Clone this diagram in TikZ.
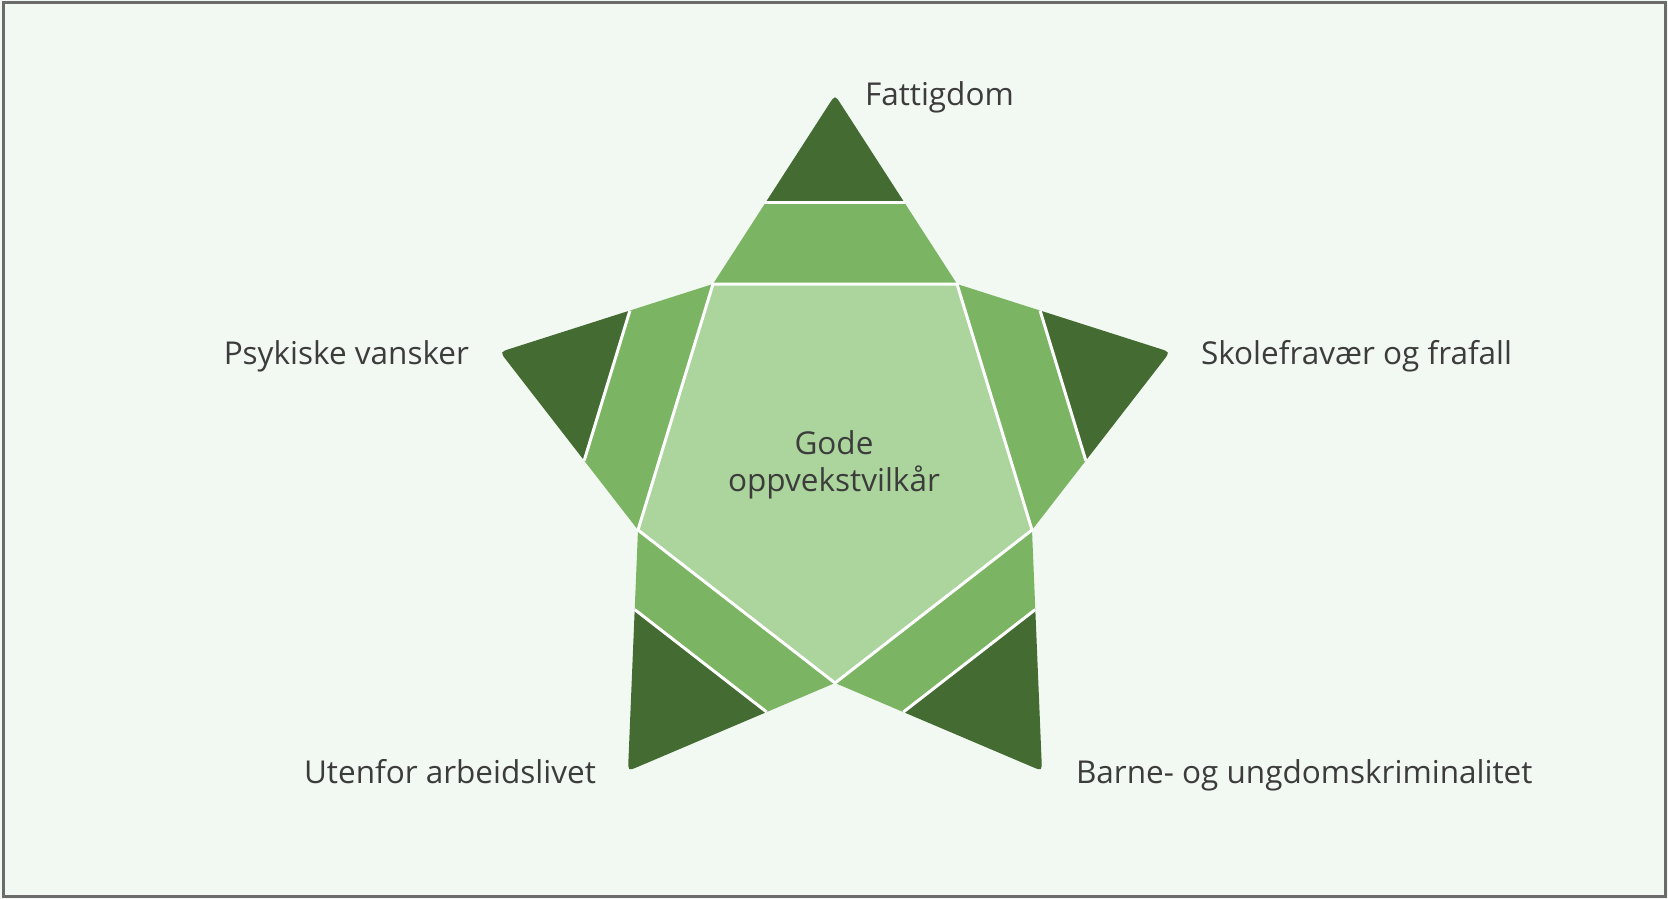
\documentclass[tikz,border=0pt]{standalone}
\usepackage{fontspec}
\setmainfont{Open Sans}
\usetikzlibrary{calc}
\definecolor{bgcol}{HTML}{F2F8F2}
\definecolor{darkgreen}{HTML}{436B32}
\definecolor{midgreen}{HTML}{7BB462}
\definecolor{lightgreen}{HTML}{ABD59D}
\definecolor{txtcol}{HTML}{3C3C3C}
\definecolor{framecol}{HTML}{6B6B6B}

\begin{document}
\begin{tikzpicture}[x=1pt, y=-1pt,
  sep/.style={white, line width=3, line join=round},
  lbl/.style={inner sep=0, outer sep=0, text=txtcol, font=\fontsize{31.5}{37}\selectfont}]
  \useasboundingbox (0,0) rectangle (1668,899);
  \fill [bgcol] (0,0) rectangle (1668,899);
  \draw [framecol, line width=3] (3,3) rectangle (1665,896);

  % pentagon
  \coordinate (A) at (713,284);
  \coordinate (B) at (957,284);
  \coordinate (C) at (1032,530);
  \coordinate (D) at (835,683);
  \coordinate (E) at (638,530);
  % tips
  \coordinate (TA) at (835,95);
  \coordinate (TB) at (1170,352);
  \coordinate (TC) at (1042,771);
  \coordinate (TD) at (628,771);
  \coordinate (TE) at (500,352);

  % splits
  \coordinate (A1) at ($(TA)!0.57!(A)$);
  \coordinate (A2) at ($(TA)!0.57!(B)$);
  \coordinate (B1) at ($(TB)!0.61!(B)$);
  \coordinate (B2) at ($(TB)!0.61!(C)$);
  \coordinate (C1) at ($(TC)!0.67!(C)$);
  \coordinate (C2) at ($(TC)!0.67!(D)$);
  \coordinate (D1) at ($(TD)!0.67!(D)$);
  \coordinate (D2) at ($(TD)!0.67!(E)$);
  \coordinate (E1) at ($(TE)!0.61!(E)$);
  \coordinate (E2) at ($(TE)!0.61!(A)$);

  \fill [lightgreen] (A)--(B)--(C)--(D)--(E)--cycle;

  \fill [midgreen] (A)--(B)--(A2)--(A1)--cycle;
  \fill [midgreen] (B)--(C)--(B2)--(B1)--cycle;
  \fill [midgreen] (C)--(D)--(C2)--(C1)--cycle;
  \fill [midgreen] (D)--(E)--(D2)--(D1)--cycle;
  \fill [midgreen] (E)--(A)--(E2)--(E1)--cycle;

  \fill [darkgreen] (A1)--($(TA)!11pt!(A1)$) .. controls (TA) .. ($(TA)!11pt!(A2)$)--(A2)--cycle;
  \fill [darkgreen] (B1)--($(TB)!11pt!(B1)$) .. controls (TB) .. ($(TB)!11pt!(B2)$)--(B2)--cycle;
  \fill [darkgreen] (C1)--($(TC)!11pt!(C1)$) .. controls (TC) .. ($(TC)!11pt!(C2)$)--(C2)--cycle;
  \fill [darkgreen] (D1)--($(TD)!11pt!(D1)$) .. controls (TD) .. ($(TD)!11pt!(D2)$)--(D2)--cycle;
  \fill [darkgreen] (E1)--($(TE)!11pt!(E1)$) .. controls (TE) .. ($(TE)!11pt!(E2)$)--(E2)--cycle;

  \draw [sep] (A)--(B)--(C)--(D)--(E)--cycle;
  \draw [sep] (A1)--(A2);
  \draw [sep] (B1)--(B2);
  \draw [sep] (C1)--(C2);
  \draw [sep] (D1)--(D2);
  \draw [sep] (E1)--(E2);

  \node [lbl, align=center] (gode) at (834,465) {Gode\\oppvekstvilkår};
  \node [lbl, anchor=base west] (fattig) at (865,105) {Fattigdom};
  \node [lbl, anchor=base east] (psyk) at (469,364) {Psykiske vansker};
  \node [lbl, anchor=base west] (skole) at (1201,364) {Skolefravær og frafall};
  \node [lbl, anchor=base east] (uten) at (596,783) {Utenfor arbeidslivet};
  \node [lbl, anchor=base west] (barne) at (1076,783) {Barne- og ungdomskriminalitet};
\end{tikzpicture}
\end{document}
